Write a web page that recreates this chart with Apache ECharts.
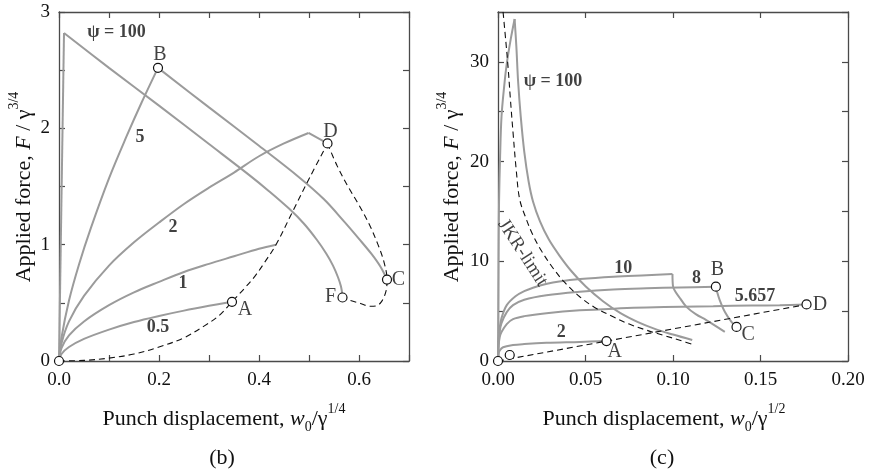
<!DOCTYPE html>
<html><head><meta charset="utf-8">
<script src="https://cdn.jsdelivr.net/npm/echarts@6/dist/echarts.min.js"></script>
<style>html,body{margin:0;padding:0;background:#fff}#c{width:870px;height:472px}</style>
</head><body><div id="c"></div>
<script>
// ---------- Panel (b) data ----------
const bPsi100Rise = [[0,0],[0.01,2.82]];
const bPsi100Fall = [[0.01,2.82],[0.1,2.52],[0.2,2.195],[0.3,1.865],[0.38,1.6],[0.42,1.46],[0.46,1.31],[0.49,1.18],[0.516,1.04],[0.535,0.92],[0.548,0.82],[0.558,0.72],[0.564,0.64],[0.567,0.56]];
const bPsi5Rise = [[0,0],[0.005,0.2],[0.02,0.52],[0.04,0.83],[0.0635,1.14],[0.1,1.57],[0.135,1.93],[0.165,2.22],[0.198,2.52]];
const bPsi5Fall = [[0.198,2.52],[0.3,2.18],[0.4,1.85],[0.48,1.58],[0.53,1.39],[0.57,1.2],[0.6,1.05],[0.625,0.92],[0.643,0.81],[0.656,0.7]];
const bPsi2Rise = [[0,0],[0.005,0.15],[0.02,0.34],[0.05,0.56],[0.1,0.82],[0.15,1.02],[0.2,1.19],[0.25,1.35],[0.3,1.49],[0.35,1.62],[0.4,1.76],[0.45,1.87],[0.499,1.96]];
const bPsi2Fall = [[0.499,1.96],[0.537,1.87]];
const bPsi1 = [[0,0],[0.005,0.11],[0.02,0.22],[0.05,0.34],[0.1,0.48],[0.15,0.59],[0.2,0.68],[0.25,0.765],[0.3,0.835],[0.35,0.9],[0.4,0.965],[0.434,1.0]];
const bPsi05 = [[0,0],[0.005,0.06],[0.02,0.12],[0.05,0.19],[0.1,0.27],[0.15,0.335],[0.2,0.387],[0.25,0.433],[0.3,0.474],[0.346,0.509]];
const bDashRise = [[0,0],[0.05,0.005],[0.1,0.025],[0.15,0.06],[0.2,0.12],[0.25,0.2],[0.29,0.3],[0.32,0.39],[0.346,0.509],[0.37,0.62],[0.392,0.73],[0.41,0.84],[0.434,1.0],[0.469,1.3],[0.503,1.59],[0.537,1.87]];
const bDashLoop = [[0.537,1.87],[0.556,1.68],[0.578,1.5],[0.6,1.34],[0.62,1.18],[0.638,1.0],[0.65,0.85],[0.656,0.7],[0.654,0.6],[0.645,0.51],[0.635,0.475],[0.623,0.47],[0.603,0.495],[0.583,0.52],[0.567,0.546]];
const bPoints = [[0,0],[0.346,0.509],[0.198,2.52],[0.656,0.7],[0.537,1.87],[0.567,0.546]];
const bLetters = [['A',0.372,0.437],['B',0.202,2.63],['C',0.679,0.696],['D',0.543,1.97],['F',0.543,0.55]];
const bCurveLabels = [['ψ = 100',0.115,2.825],['5',0.162,1.92],['2',0.228,1.15],['1',0.248,0.67],['0.5',0.198,0.29]];
const bXTickLabels = ['0.0','0.2','0.4','0.6'];
const bYTickLabels = ['0','1','2','3'];

// ---------- Panel (c) data ----------
const cPsi100Rise = [[0,0],[0.0003,10],[0.0006,16],[0.0012,20.5],[0.002,24.5],[0.0035,27.5],[0.005,29.8],[0.0073,32.3],[0.0095,34.3]];
const cPsi100Fall = [[0.0095,34.3],[0.0105,31.5],[0.0115,28],[0.013,24.5],[0.015,21],[0.0175,18],[0.02,16],[0.024,14],[0.029,12.2],[0.035,10.6],[0.042,9.0],[0.05,7.5],[0.06,6.0],[0.07,4.8],[0.08,3.9],[0.09,3.2],[0.1,2.65],[0.111,2.1]];
const cJKR = [[0.0029,35],[0.0045,32],[0.0057,29.6],[0.0072,26],[0.0086,22.9],[0.0105,19],[0.0124,16.2],[0.016,14.3],[0.02,12.6],[0.025,11],[0.0315,9.3],[0.038,7.9],[0.0467,6.44],[0.055,5.4],[0.0658,4.43],[0.075,3.7],[0.0849,3.09],[0.095,2.55],[0.1039,2.08],[0.1125,1.58]];
const cPsi10Rise = [[0,0],[0.0003,2],[0.001,3.3],[0.002,4.3],[0.005,5.6],[0.01,6.5],[0.015,7.0],[0.02,7.35],[0.028,7.75],[0.035,7.98],[0.047,8.22],[0.066,8.45],[0.085,8.6],[0.0997,8.72]];
const cPsi10Fall = [[0.0997,8.72],[0.1,7.5],[0.104,6.3],[0.1077,5.43],[0.113,4.7],[0.119,4.1],[0.1245,3.5],[0.1296,2.92]];
const cPsi8Rise = [[0,0],[0.0003,1.8],[0.001,3.0],[0.002,3.8],[0.005,4.9],[0.0086,5.6],[0.015,6.15],[0.0277,6.6],[0.0467,6.95],[0.0658,7.18],[0.085,7.3],[0.104,7.38],[0.1245,7.45]];
const cPsi8Fall = [[0.1245,7.45],[0.1252,6.94],[0.1267,6.1],[0.1296,4.93],[0.1334,3.92],[0.1363,3.42]];
const cPsi5657 = [[0,0],[0.0003,1.5],[0.001,2.4],[0.002,2.9],[0.005,3.7],[0.0086,4.2],[0.015,4.5],[0.0277,4.8],[0.0467,5.08],[0.07,5.28],[0.085,5.37],[0.105,5.45],[0.123,5.5],[0.145,5.56],[0.161,5.6],[0.1763,5.67]];
const cPsi2 = [[0,0],[0.0003,0.7],[0.001,1.05],[0.0029,1.38],[0.0086,1.6],[0.015,1.7],[0.0277,1.82],[0.0467,1.91],[0.062,2.0]];
const cDash = [[0,0],[0.1763,5.67]];
const cPoints = [[0,0],[0.0067,0.6],[0.062,2.0],[0.1245,7.45],[0.1363,3.42],[0.1763,5.67]];
const cLetters = [['A',0.0667,0.9],['B',0.1254,9.12],['C',0.143,2.59],['D',0.184,5.6]];
const cCurveLabels = [['ψ = 100',0.0314,28.07],['10',0.0715,9.3],['8',0.1134,8.29],['5.657',0.1468,6.44],['2',0.0362,2.92]];
const cJKRLabel = [['JKR-limit',0.0141,10.84]];
const cXTickLabels = ['0.00','0.05','0.10','0.15','0.20'];
const cYTickLabels = ['0','10','20','30'];

// ---------- styles ----------
const FONT = '"Liberation Serif", "Times New Roman", serif';
const GRAY = '#9b9b9b';
const AXC = '#4a4a4a';

function xAx(gi, min, max, interval, labels, dec, top) {
  return {
    type:'value', gridIndex:gi, min, max, interval, position: top ? 'top' : 'bottom',
    axisLine:{show:true, onZero:false, lineStyle:{color:AXC, width:1.3}},
    axisTick:{show:true, inside:true, length:6, lineStyle:{color:AXC, width:1.2}},
    splitLine:{show:false},
    axisLabel:{show:!top, margin:10, color:'#111', fontFamily:FONT, fontSize:19,
      formatter: v => { const s = v.toFixed(dec); return labels.includes(s) ? s : ''; }}
  };
}
function yAx(gi, min, max, interval, labels, right) {
  return {
    type:'value', gridIndex:gi, min, max, interval, position: right ? 'right' : 'left',
    axisLine:{show:true, onZero:false, lineStyle:{color:AXC, width:1.3}},
    axisTick:{show:true, inside:true, length:6, lineStyle:{color:AXC, width:1.2}},
    splitLine:{show:false},
    axisLabel:{show:!right, margin:9, color:'#111', fontFamily:FONT, fontSize:19,
      formatter: v => { const s = String(Math.round(v*100)/100); return labels.includes(s) ? s : ''; }}
  };
}
function curve(data, xi, yi, smooth) {
  return {type:'line', xAxisIndex:xi, yAxisIndex:yi, data, symbol:'none', showSymbol:false,
    smooth: smooth || false,
    lineStyle:{color:GRAY, width:2}, silent:true, z:2, clip:true};
}
function dashed(data, xi, yi, smooth) {
  return {type:'line', xAxisIndex:xi, yAxisIndex:yi, data, symbol:'none', showSymbol:false,
    smooth: smooth || false,
    lineStyle:{color:'#111', width:1.1, type:[6,4]}, silent:true, z:3, clip:true};
}
function markers(data, xi, yi) {
  return {type:'scatter', xAxisIndex:xi, yAxisIndex:yi, data, symbol:'circle', symbolSize:9,
    itemStyle:{color:'#fff', borderColor:'#111', borderWidth:1.2, opacity:1}, z:5, clip:false, silent:true};
}
function texts(arr, xi, yi, bold, size, rotate) {
  return {type:'scatter', xAxisIndex:xi, yAxisIndex:yi, symbolSize:0, z:6, clip:false, silent:true,
    data: arr.map(a => ({name:a[0], value:[a[1], a[2]]})),
    label:{show:true, position:'inside', formatter: p => p.name, color:'#111',
      fontFamily:FONT, fontSize:size, fontWeight: bold ? 'bold' : 'normal', rotate: rotate || 0}};
}

const richBase = {
  t:{fontFamily:FONT, fontSize:22, color:'#111', lineHeight:28, verticalAlign:'bottom'},
  i:{fontFamily:FONT, fontSize:22, color:'#111', fontStyle:'italic', lineHeight:28, verticalAlign:'bottom'},
  sub:{fontFamily:FONT, fontSize:14, color:'#111', verticalAlign:'bottom', lineHeight:28, padding:[0,0,-4,0]},
  sup:{fontFamily:FONT, fontSize:14, color:'#111', verticalAlign:'top', lineHeight:28}
};
function gText(text, x, y, rot) {
  return {type:'text', x, y, rotation: rot || 0, silent:true,
    style:{text, rich:richBase, align:'center', verticalAlign:'middle', textAlign:'center', textVerticalAlign:'middle',
      fontFamily:FONT, fontSize:22, fill:'#111'}};
}

const S = 0.35;
const option = {
  animation:false,
  backgroundColor:'#fff',
  grid:[
    {left:59, top:12, width:350, height:349},
    {left:498, top:12, width:350, height:349}
  ],
  xAxis:[
    xAx(0, 0, 0.7, 0.1, bXTickLabels, 1, false),
    xAx(0, 0, 0.7, 0.1, bXTickLabels, 1, true),
    xAx(1, 0, 0.2, 0.05, cXTickLabels, 2, false),
    xAx(1, 0, 0.2, 0.05, cXTickLabels, 2, true)
  ],
  yAxis:[
    yAx(0, 0, 3, 0.5, bYTickLabels, false),
    yAx(0, 0, 3, 0.5, bYTickLabels, true),
    yAx(1, 0, 35, 5, cYTickLabels, false),
    yAx(1, 0, 35, 5, cYTickLabels, true)
  ],
  series:[
    curve(bPsi100Rise,0,0), curve(bPsi100Fall,0,0,S),
    curve(bPsi5Rise,0,0,S), curve(bPsi5Fall,0,0,S),
    curve(bPsi2Rise,0,0,S), curve(bPsi2Fall,0,0),
    curve(bPsi1,0,0,S), curve(bPsi05,0,0,S),
    dashed(bDashRise,0,0,S), dashed(bDashLoop,0,0,S),
    markers(bPoints,0,0),
    texts(bLetters,0,0,false,20), texts(bCurveLabels,0,0,true,18),
    curve(cPsi100Rise,2,2,S), curve(cPsi100Fall,2,2,S),
    curve(cPsi10Rise,2,2,S), curve(cPsi10Fall,2,2,S),
    curve(cPsi8Rise,2,2,S), curve(cPsi8Fall,2,2,S),
    curve(cPsi5657,2,2,S), curve(cPsi2,2,2,S),
    dashed(cJKR,2,2,S), dashed(cDash,2,2),
    markers(cPoints,2,2),
    texts(cLetters,2,2,false,20), texts(cCurveLabels,2,2,true,18), texts(cJKRLabel,2,2,false,19,-57)
  ],
  graphic:[
    gText('{t|Punch displacement, }{i|w}{sub|0}{t|/γ}{sup|1/4}', 224, 416),
    gText('{t|Punch displacement, }{i|w}{sub|0}{t|/γ}{sup|1/2}', 664, 416),
    gText('{t|Applied force, }{i|F}{t| / γ}{sup|3/4}', 21, 187, Math.PI/2),
    gText('{t|Applied force, }{i|F}{t| / γ}{sup|3/4}', 449, 187, Math.PI/2),
    gText('{t|(b)}', 222, 455),
    gText('{t|(c)}', 662, 455)
  ]
};
const chart = echarts.init(document.getElementById('c'), null, {renderer:'canvas'});
chart.setOption(option);
</script></body></html>
